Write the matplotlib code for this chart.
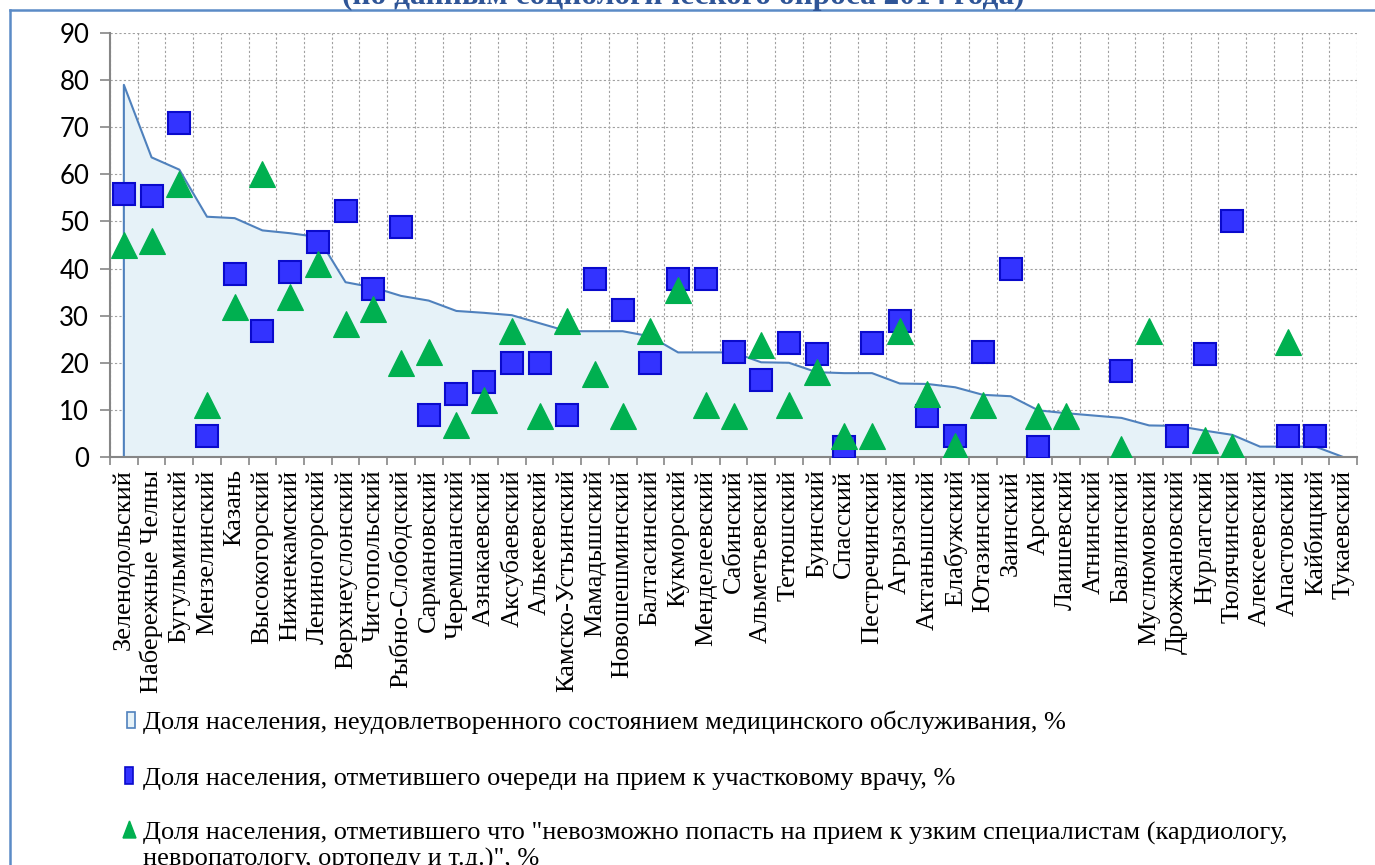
import numpy as np
import matplotlib
matplotlib.use('Agg')
import matplotlib.pyplot as plt
from matplotlib.lines import Line2D
from matplotlib.patches import Rectangle, Polygon

# Districts of Tatarstan (survey 2014)
districts = ['Зеленодольский', 'Набережные Челны', 'Бугульминский', 'Мензелинский', 'Казань',
             'Высокогорский', 'Нижнекамский', 'Лениногорский', 'Верхнеуслонский', 'Чистопольский',
             'Рыбно-Слободский', 'Сармановский', 'Черемшанский', 'Азнакаевский', 'Аксубаевский',
             'Алькеевский', 'Камско-Устьинский', 'Мамадышский', 'Новошешминский', 'Балтасинский',
             'Кукморский', 'Менделеевский', 'Сабинский', 'Альметьевский', 'Тетюшский',
             'Буинский', 'Спасский', 'Пестречинский', 'Агрызский', 'Актанышский',
             'Елабужский', 'Ютазинский', 'Заинский', 'Арский', 'Лаишевский',
             'Атнинский', 'Бавлинский', 'Муслюмовский', 'Дрожжановский', 'Нурлатский',
             'Тюлячинский', 'Алексеевский', 'Апастовский', 'Кайбицкий', 'Тукаевский']

# share unsatisfied with medical service, %
unsatisfied = [79, 63.6, 61.0, 51.0, 50.7, 48.1, 47.5, 46.7, 37.1, 36.0,
               34.2, 33.2, 31.0, 30.6, 30.1, 28.4, 26.7, 26.7, 26.7, 25.6,
               22.2, 22.2, 22.2, 20.1, 20.0, 18.0, 17.8, 17.8, 15.6, 15.5,
               14.8, 13.2, 12.9, 9.9, 9.3, 8.8, 8.3, 6.7, 6.6, 5.6,
               4.7, 2.2, 2.2, 2.2, 0]

nan = np.nan
# queues to district doctor, %
queues = [55.8, 55.5, 71.0, 4.5, 38.9, 26.7, 39.3, 45.6, 52.2, 35.7,
          48.9, 8.9, 13.4, 16.0, 20.0, 20.0, 8.9, 37.8, 31.1, 20.0,
          37.8, 37.8, 22.2, 16.4, 24.3, 21.9, 2.2, 24.3, 28.9, 8.8,
          4.5, 22.2, 40.0, 2.2, nan, nan, 18.2, nan, 4.5, 21.9,
          50.0, nan, 4.5, 4.5, nan]

# impossible to see specialists, %
specialists = [45.0, 45.9, 58.0, 11.1, 31.8, 60.0, 33.9, 41.0, 28.3, 31.4,
               20.0, 22.3, 6.7, 12.0, 26.7, 8.8, 28.9, 17.7, 8.8, 26.7,
               35.5, 11.1, 8.8, 23.8, 11.1, 18.0, 4.4, 4.4, 26.7, 13.4,
               2.3, 11.1, nan, 8.8, 8.8, nan, 1.8, 26.7, nan, 3.7,
               2.2, nan, 24.4, nan, nan]

legend_labels = [
    'Доля населения, неудовлетворенного состоянием медицинского обслуживания, %',
    'Доля населения, отметившего очереди на прием к участковому врачу, %',
    'Доля населения, отметившего что "невозможно попасть на прием к узким специалистам (кардиологу,\n'
    'невропатологу, ортопеду и т.д.)", %',
]
title = '(по данным социологического опроса 2014 года)'

W, H = 1375, 865
fig = plt.figure(figsize=(W / 100, H / 100), dpi=100)
ax = fig.add_axes([110 / W, 1 - 457 / H, (1357 - 110) / W, (457 - 33) / H])

x = np.arange(len(districts))
area_col = '#4F81BD'
ax.fill_between(x, unsatisfied, 0, color='#E6F2F8', zorder=1, linewidth=0)
ax.plot(np.r_[x[0], x], np.r_[0, unsatisfied], color=area_col, lw=1.5, zorder=2)

ax.plot(x, queues, 's', ms=15.5, mfc='#3333FF', mec='#0A0ACC', mew=1.5, zorder=4, ls='none')
ax.plot(x, specialists, '^', ms=18.5, mfc='#00B050', mec='#00B050', mew=0.8, zorder=5, ls='none')

ax.set_xlim(-0.5, len(districts) - 0.5)
ax.set_ylim(0, 90)
ax.set_yticks(np.arange(0, 91, 10))
ax.set_xticks(x)
ax.set_xticklabels(districts, rotation=90, family='Liberation Serif', fontsize=19,
                   ha='center', va='top')
ax.set_xticks(np.arange(-0.5, len(districts), 1), minor=True)
ax.tick_params(axis='x', which='major', length=0, pad=9)
ax.tick_params(axis='x', which='minor', length=6, width=1.2, color='#868686', direction='out')
ax.tick_params(axis='y', length=7, width=1.2, color='#868686', direction='out', pad=8,
               labelsize=18.5)
for lab in ax.get_yticklabels():
    lab.set_family('Lato')

ax.grid(True, axis='y', which='major', color='#A0A0A0', ls=(0, (2, 2)), lw=0.8, zorder=0)
ax.grid(True, axis='x', which='minor', color='#A0A0A0', ls=(0, (2, 2)), lw=0.8, zorder=0)
ax.set_axisbelow(True)
for s in ['top', 'right']:
    ax.spines[s].set_visible(False)
for s in ['left', 'bottom']:
    ax.spines[s].set_color('#868686')
    ax.spines[s].set_linewidth(1.5)
    ax.spines[s].set_zorder(3)


def fx(px):
    return px / W


def fy(py):
    return 1 - py / H


# outer chart frame
frame_col = '#5B8BC6'
fig.add_artist(Line2D([fx(10), 1], [fy(10), fy(10)], color=frame_col, lw=1.8))
fig.add_artist(Line2D([fx(10), fx(10)], [fy(10), 0], color=frame_col, lw=1.8))

# title, cut off at the top
fig.text(fx(683), fy(4), title, ha='center', va='baseline', family='Liberation Serif',
         weight='bold', fontsize=22.5, color='#2F5597')

# legend (markers drawn by hand, text lines placed one by one)
fig.add_artist(Rectangle((fx(127), fy(728)), 8 / W, 16 / H, transform=fig.transFigure,
                         facecolor='#E6F2F8', edgecolor=area_col, lw=1.2))
fig.add_artist(Rectangle((fx(125), fy(784)), 8 / W, 17 / H, transform=fig.transFigure,
                         facecolor='#3333FF', edgecolor='#0A0ACC', lw=1.2))
fig.add_artist(Polygon([[fx(123), fy(838)], [fx(136), fy(838)], [fx(129.5), fy(821)]],
                       closed=True, transform=fig.transFigure, facecolor='#00B050',
                       edgecolor='#00B050'))
row_y = [720, 776, 831]
for ry, lab in zip(row_y, legend_labels):
    for k, line in enumerate(lab.split('\n')):
        fig.text(fx(143), fy(ry + 26 * k), line, ha='left', va='center_baseline',
                 family='Liberation Serif', fontsize=19)

fig.savefig('out.png', dpi=100)
